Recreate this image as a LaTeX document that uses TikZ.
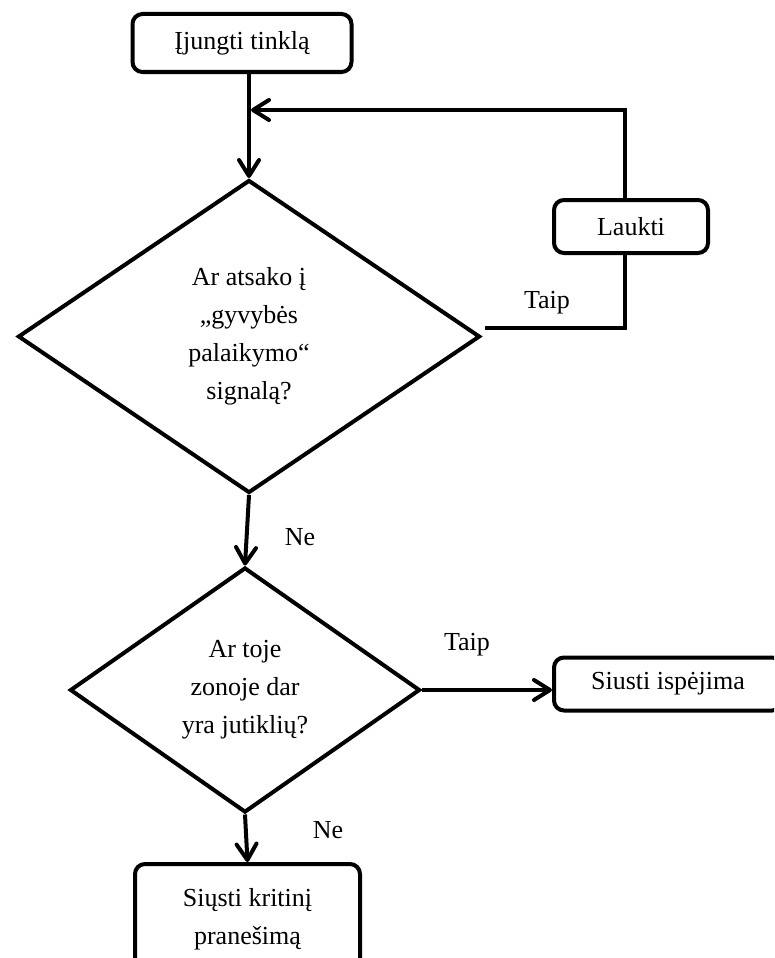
\documentclass[tikz,border=0pt]{standalone}
\usepackage{fontspec}
\setmainfont{Liberation Serif}
\usetikzlibrary{shapes.geometric,arrows.meta}
\begin{document}
\begin{tikzpicture}[x=1pt,y=-1pt,
  every node/.style={font=\fontsize{26}{38}\selectfont},
  box/.style={draw, line width=4pt, rounded corners=10pt, inner sep=0pt, align=center},
  decision/.style={draw, shape=diamond, line width=4pt, inner sep=0pt, align=center},
  flow/.style={line width=4pt},
  arrow/.style={flow, -{Straight Barb[length=16pt,width=20pt,round]}},
  lbl/.style={inner sep=0pt}]
\clip (0,0) rectangle (774,958);
% process boxes
\node[box, minimum width=219pt, minimum height=58pt] (start) at (242,43) {Įjungti tinklą};
\node[box, minimum width=154pt, minimum height=53pt] (laukti) at (631,226.5) {Laukti};
\node[box, minimum width=228pt, minimum height=53pt] (warn) at (668,684) {Siusti ispėjima};
\node[box, minimum width=225pt, minimum height=110pt] (crit) at (247.5,919) {Siųsti kritinį\\pranešimą};
% decisions
\node[decision, minimum width=462pt, minimum height=313pt] (d1) at (249,336.5)
  {Ar atsako į\\„gyvybės\\palaikymo“\\signalą?};
\node[decision, minimum width=350pt, minimum height=245pt] (d2) at (245,690)
  {Ar toje\\zonoje dar\\yra jutiklių?};
% branch labels
\node[lbl] (y1) at (547,303) {Taip};
\node[lbl] (n1) at (300,537) {Ne};
\node[lbl] (y2) at (467,645) {Taip};
\node[lbl] (n2) at (328,830) {Ne};
% connectors
\coordinate (join) at (251,110);
\coordinate (back) at (485,328);
\draw[arrow] (start.south -| d1.north) -- (d1.north);
\draw[arrow] ([xshift=-6pt]laukti.north) |- (join);
\draw[flow] ([xshift=-6pt]laukti.south) |- (back);
\draw[arrow] (d1.south) -- (d2.north);
\draw[arrow] (d2.east) -- (d2.east -| warn.west);
\draw[arrow] (d2.south) -- (crit.north);
\end{tikzpicture}
\end{document}
